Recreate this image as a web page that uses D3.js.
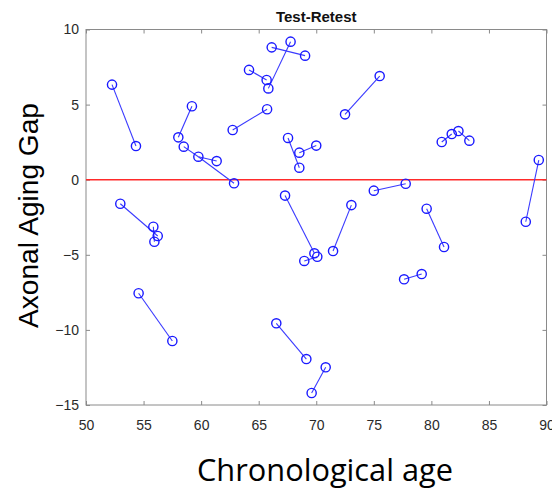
<!DOCTYPE html>
<html>
<head>
<meta charset="utf-8">
<script src="https://cdn.jsdelivr.net/npm/d3@7"></script>
<style>
  body { margin: 0; background: #fff; }
  svg { display: block; }
</style>
</head>
<body>
<div id="chart"></div>
<script>
// test / retest pairs, one entry per subject
const ageTest   = [52.26, 58.02, 58.49, 61.35, 59.76, 62.74, 64.16, 67.77, 66.13, 72.50, 67.55, 68.53, 80.90, 82.35, 89.33, 75.00, 67.29, 68.96, 71.46, 79.59, 77.63, 66.53, 70.82, 52.98, 55.85, 54.57];
const gapTest   = [6.33, 2.82, 2.20, 1.24, 1.53, 3.31, 7.31, 9.19, 8.81, 4.35, 2.78, 1.80, 2.51, 3.24, 1.31, -0.73, -1.06, -5.41, -4.75, -1.93, -6.63, -9.56, -12.49, -1.60, -3.13, -7.56];
const ageRetest = [54.34, 59.20, 59.76, 59.76, 62.86, 65.73, 65.69, 65.84, 69.03, 75.51, 68.53, 70.00, 81.77, 83.30, 88.20, 77.77, 69.84, 70.09, 73.05, 81.10, 79.16, 69.14, 69.60, 56.23, 55.94, 57.50];
const gapRetest = [2.24, 4.89, 1.53, 1.53, -0.24, 4.69, 6.64, 6.08, 8.26, 6.90, 0.80, 2.27, 3.04, 2.60, -2.80, -0.27, -4.90, -5.13, -1.69, -4.48, -6.28, -11.94, -14.20, -3.75, -4.13, -10.74];

const xTicks = [50, 55, 60, 65, 70, 75, 80, 85, 90];
const yTicks = [-15, -10, -5, 0, 5, 10];

const W = 552, H = 490;
const mLeft = 86, mRight = 546.5, mTop = 29.5, mBottom = 405;

const svg = d3.select("#chart").append("svg")
  .attr("width", W).attr("height", H)
  .attr("viewBox", `0 0 ${W} ${H}`);

const x = d3.scaleLinear().domain([50, 90]).range([mLeft, mRight]);
const y = d3.scaleLinear().domain([-15, 10]).range([mBottom, mTop]);

// box
svg.append("rect")
  .attr("x", mLeft).attr("y", mTop)
  .attr("width", mRight - mLeft).attr("height", mBottom - mTop)
  .attr("fill", "none").attr("stroke", "#8a8a8a").attr("stroke-width", 1);

// axes (ticks pointing inside, matlab style)
const gx = svg.append("g").attr("transform", `translate(0,${mBottom})`)
  .call(d3.axisBottom(x).tickValues(xTicks).tickSizeInner(-4).tickSizeOuter(0).tickPadding(15));
const gxTop = svg.append("g").attr("transform", `translate(0,${mTop})`)
  .call(d3.axisTop(x).tickValues(xTicks).tickSizeInner(-4).tickSizeOuter(0).tickFormat(""));
const gy = svg.append("g").attr("transform", `translate(${mLeft},0)`)
  .call(d3.axisLeft(y).tickValues(yTicks).tickSizeInner(-4).tickSizeOuter(0).tickPadding(7));
const gyRight = svg.append("g").attr("transform", `translate(${mRight},0)`)
  .call(d3.axisRight(y).tickValues(yTicks).tickSizeInner(-4).tickSizeOuter(0).tickFormat(""));

[gx, gxTop, gy, gyRight].forEach(g => {
  g.select(".domain").remove();
  g.selectAll("line").attr("stroke", "#8a8a8a");
  g.selectAll("text")
    .attr("font-family", "'Liberation Sans', Arial, sans-serif")
    .attr("font-size", 14)
    .attr("fill", "#2a2a2a");
});

// zero line
svg.append("line")
  .attr("x1", mLeft).attr("x2", mRight)
  .attr("y1", y(0)).attr("y2", y(0))
  .attr("stroke", "#ff2a2a").attr("stroke-width", 1.4);

const plot = svg.append("g");

// connecting lines
plot.selectAll(".pair")
  .data(d3.range(ageTest.length))
  .join("line")
  .attr("class", "pair")
  .attr("x1", i => x(ageTest[i])).attr("y1", i => y(gapTest[i]))
  .attr("x2", i => x(ageRetest[i])).attr("y2", i => y(gapRetest[i]))
  .attr("stroke", "#3a3aff").attr("stroke-width", 1.1);

// markers (skip exact duplicates so they are not drawn twice)
const pts = [];
const seen = new Set();
ageTest.forEach((a, i) => {
  [[a, gapTest[i]], [ageRetest[i], gapRetest[i]]].forEach(p => {
    const k = p.join(",");
    if (!seen.has(k)) { seen.add(k); pts.push(p); }
  });
});
plot.selectAll(".pt")
  .data(pts)
  .join("circle")
  .attr("class", "pt")
  .attr("cx", d => x(d[0])).attr("cy", d => y(d[1]))
  .attr("r", 4.6)
  .attr("fill", "none")
  .attr("stroke", "#1a1aff").attr("stroke-width", 1.4);

// title
svg.append("text")
  .attr("x", (mLeft + mRight) / 2).attr("y", 21.5)
  .attr("text-anchor", "middle")
  .attr("font-family", "'Liberation Sans', Arial, sans-serif")
  .attr("font-weight", "bold").attr("font-size", 15)
  .attr("fill", "#111")
  .text("Test-Retest");

// fit a label to a target width
function fitText(sel, target, base) {
  const len = sel.node().getComputedTextLength();
  sel.attr("font-size", base * target / len);
}

const xLabel = svg.append("text")
  .attr("x", 325).attr("y", 481)
  .attr("text-anchor", "middle")
  .attr("font-family", "'Open Sans', 'Noto Sans', sans-serif")
  .attr("font-size", 30)
  .attr("fill", "#000")
  .text("Chronological age");
fitText(xLabel, 256, 30);

const yLabel = svg.append("text")
  .attr("transform", `translate(38,215.5) rotate(-90)`)
  .attr("text-anchor", "middle")
  .attr("font-family", "'Liberation Sans', Arial, sans-serif")
  .attr("font-size", 28)
  .attr("fill", "#000")
  .text("Axonal Aging Gap");
fitText(yLabel, 225, 28);
</script>
</body>
</html>
